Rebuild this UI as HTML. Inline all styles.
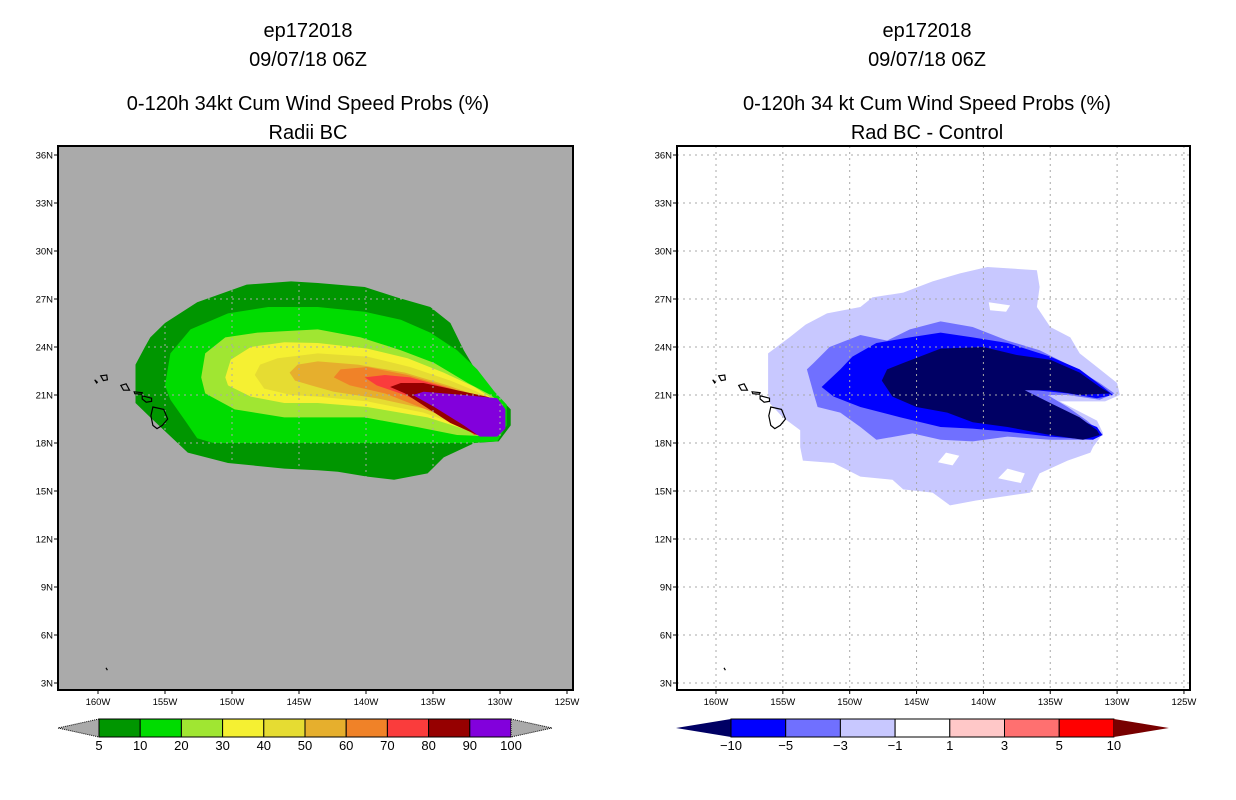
<!DOCTYPE html>
<html><head><meta charset="utf-8">
<style>
html,body{margin:0;padding:0;background:#fff;}
svg{display:block;font-family:"Liberation Sans",sans-serif;}
</style></head>
<body>
<svg id="chart" width="1236" height="800" viewBox="0 0 1236 800" xmlns="http://www.w3.org/2000/svg">
  <defs>
    <clipPath id="clipL"><rect x="58" y="146" width="515" height="544"/></clipPath>
    <clipPath id="clipR"><rect x="677" y="146" width="513" height="544"/></clipPath>
  </defs>
  <g font-size="20" text-anchor="middle" fill="#000">
    <text x="308" y="37">ep172018</text>
    <text x="308" y="66">09/07/18 06Z</text>
    <text x="308" y="110">0-120h 34kt Cum Wind Speed Probs (%)</text>
    <text x="308" y="139">Radii BC</text>
  </g>
  <g font-size="20" text-anchor="middle" fill="#000">
    <text x="927" y="37">ep172018</text>
    <text x="927" y="66">09/07/18 06Z</text>
    <text x="927" y="110">0-120h 34 kt Cum Wind Speed Probs (%)</text>
    <text x="927" y="139">Rad BC - Control</text>
  </g>
  <rect x="58" y="146" width="515" height="544" fill="#aaaaaa"/>
  <rect x="677" y="146" width="513" height="544" fill="#ffffff"/>
  <g id="leftContours" clip-path="url(#clipL)"></g>
  <g id="rightContours" clip-path="url(#clipR)"></g>
  <g id="leftGrid" clip-path="url(#clipL)"></g>
  <g id="rightGrid" clip-path="url(#clipR)"></g>
  <g id="leftCoast" clip-path="url(#clipL)"></g>
  <g id="rightCoast" clip-path="url(#clipR)"></g>
  <rect x="58" y="146" width="515" height="544" fill="none" stroke="#000" stroke-width="2"/>
  <rect x="677" y="146" width="513" height="544" fill="none" stroke="#000" stroke-width="2"/>
  <g id="leftAxes"></g>
  <g id="rightAxes"></g>
  <g id="leftBar"></g>
  <g id="rightBar"></g>
</svg>
<script>
// ---------- data ----------
const latTicks = [36,33,30,27,24,21,18,15,12,9,6,3];
const lonTicks = [160,155,150,145,140,135,130,125];

const probLevels = [5,10,20,30,40,50,60,70,80,90,100];
const probColors = ["#009600","#00dc00","#a0e632","#f5f032","#e6dc32","#e6af2d","#f08228","#fa3c3c","#960000","#8200dc"];

const prob5 = [[157.2,21.9],[157.2,20.5],[156.1,19.6],[153.3,17.4],[150.3,16.75],[146.1,16.4],[143.6,16.3],[142.1,16.2],[139.9,15.9],[137.9,15.7],[135.4,16.1],[134.2,17.1],[131.9,18.0],[130.1,18.1],[129.2,19.1],[129.2,20.1],[130.2,21.0],[131.5,22.1],[132.7,23.8],[133.7,25.5],[135.2,26.5],[137.7,27.1],[140.1,27.75],[143.6,28.0],[145.6,28.1],[148.9,27.9],[152.6,26.8],[155.0,25.5],[156.1,24.6],[156.5,24.0],[157.2,22.9]];
const prob10 = [[155.0,21.6],[154.6,20.7],[153.5,19.4],[152.6,18.3],[151.4,18.0],[132.4,18.0],[130.2,18.1],[129.5,19.1],[129.5,20.4],[130.4,21.2],[131.7,22.6],[133.2,23.8],[135.2,24.9],[137.4,25.7],[140.1,26.2],[143.6,26.5],[147.3,26.5],[150.3,26.1],[153.1,25.1],[154.6,23.6]];
const prob20 = [[152.3,22.1],[152.0,21.1],[149.8,20.1],[146.1,19.6],[143.6,19.6],[140.1,19.6],[136.2,19.0],[133.2,18.5],[130.2,18.4],[129.8,19.1],[129.8,20.4],[130.7,21.0],[132.4,21.75],[134.9,23.0],[137.4,23.8],[140.4,24.6],[143.6,25.1],[148.1,24.9],[150.5,24.6],[152.0,23.6]];
const prob30 = [[150.5,22.1],[150.3,21.6],[148.6,20.9],[146.1,20.5],[143.6,20.5],[139.9,20.25],[135.4,19.6],[132.4,18.8],[130.4,18.7],[130.0,19.1],[130.0,20.1],[130.6,20.8],[131.9,21.5],[134.2,22.4],[136.9,23.3],[139.9,23.9],[143.6,24.25],[146.1,24.3],[148.6,24.0],[150.1,23.2]];
const prob40 = [[148.3,22.25],[147.6,21.4],[145.6,21.0],[143.6,20.9],[139.9,20.6],[135.7,19.9],[132.7,19.0],[130.2,18.9],[130.1,19.9],[130.5,20.7],[131.7,21.2],[133.7,21.9],[136.7,22.75],[139.9,23.4],[143.6,23.6],[146.6,23.3],[147.9,22.9]];
const prob50 = [[145.7,22.4],[145.3,21.9],[144.1,21.6],[142.4,21.2],[139.2,20.8],[135.4,20.1],[132.2,19.0],[130.4,18.8],[130.2,19.9],[130.4,20.6],[131.5,20.9],[133.9,21.6],[137.1,22.4],[140.6,22.9],[143.6,23.1],[145.1,22.9]];
const prob60 = [[142.4,22.1],[141.2,21.6],[138.6,21.1],[134.9,19.9],[131.9,18.8],[130.4,18.8],[130.2,19.75],[130.4,20.5],[131.2,20.7],[133.9,21.5],[136.9,22.25],[139.9,22.75],[141.9,22.6]];
const prob70 = [[140.1,22.1],[139.2,21.6],[137.1,21.0],[134.2,19.9],[131.9,18.5],[130.5,18.8],[130.4,19.75],[130.2,20.6],[131.2,20.8],[133.7,21.4],[136.7,22.1],[138.6,22.25]];
const prob80 = [[138.2,21.5],[137.1,21.1],[136.0,20.5],[133.7,19.25],[131.7,18.5],[130.5,18.8],[130.2,20.7],[131.0,20.9],[133.2,21.3],[135.7,21.75],[137.4,21.75]];
const prob90 = [[136.5,21.0],[134.9,20.25],[132.7,19.1],[131.5,18.4],[130.2,18.4],[129.6,18.9],[129.6,20.1],[130.2,20.8],[132.7,21.0],[135.7,21.2]];

const diffLevels = ["-10","-5","-3","-1","1","3","5","10"];
const diffColors = ["#000064","#0000ff","#7070ff","#c8c8ff","#ffffff","#ffc8c8","#ff7070","#ff0000","#780000"];
const diffM1 = [[156.1,23.6],[156.1,21.1],[156.0,20.5],[155.0,19.6],[153.7,18.8],[153.7,17.75],[153.5,16.9],[151.2,16.75],[149.2,15.9],[146.8,15.7],[146.0,15.1],[143.8,14.9],[142.5,14.1],[140.6,14.4],[136.5,14.9],[135.8,16.1],[133.7,16.9],[132.0,17.4],[131.8,17.75],[131.05,18.6],[131.5,19.4],[134.3,20.6],[130.9,20.6],[129.8,21.0],[130.0,21.75],[131.5,22.75],[132.8,23.6],[133.5,24.6],[135.0,25.25],[136.0,26.5],[135.8,27.75],[136.0,28.8],[139.7,29.0],[141.75,28.6],[143.8,28.1],[146.0,27.4],[148.3,27.1],[149.2,26.5],[151.7,26.1],[153.3,25.4],[154.5,24.6]];
const diffM3 = [[153.2,22.6],[152.7,21.1],[152.4,20.25],[150.7,19.9],[149.2,19.0],[148.0,18.2],[145.3,18.6],[143.2,18.2],[140.8,18.1],[138.2,18.4],[135.0,18.2],[132.0,18.2],[131.05,18.5],[132.25,19.4],[133.7,20.25],[135.2,21.0],[133.7,21.0],[131.3,20.7],[130.2,21.1],[131.3,21.75],[133.3,22.75],[135.8,23.8],[138.2,24.4],[140.8,25.25],[143.2,25.6],[145.5,25.1],[147.2,24.4],[149.2,24.75],[151.5,24.0],[152.7,23.0]];
const diffM5 = [[152.1,21.5],[151.2,20.9],[149.2,20.25],[146.2,19.6],[143.2,19.0],[140.8,18.9],[138.2,18.7],[135.0,18.4],[131.8,18.2],[131.1,18.5],[131.5,19.0],[133.3,19.6],[135.8,20.7],[137.3,21.4],[133.7,21.1],[131.5,20.8],[130.3,21.0],[131.05,21.5],[132.8,22.6],[135.0,23.4],[138.2,24.25],[140.8,24.6],[143.2,24.9],[145.5,24.6],[148.0,24.25],[149.8,23.4],[150.7,22.6]];
const diffM10 = [[147.6,21.9],[146.8,20.9],[145.0,20.25],[142.7,19.9],[140.8,19.3],[138.2,19.0],[135.0,18.5],[132.55,18.2],[131.3,18.5],[131.5,18.8],[132.8,19.6],[135.0,20.5],[136.9,21.3],[135.0,21.3],[132.8,21.0],[130.5,21.1],[131.3,21.5],[132.8,22.4],[135.0,23.2],[137.5,23.5],[140.0,24.0],[143.2,23.9],[146.0,23.0],[147.2,22.6]];
// white holes in the -1 region
const diffHole1 = [[143.4,16.8],[142.3,16.6],[141.8,17.2],[142.8,17.4]];
const diffHole2 = [[138.9,15.8],[137.2,15.5],[136.9,16.1],[138.2,16.4]];
const diffHole3 = [[139.6,26.8],[138.0,26.6],[138.3,26.2],[139.5,26.3]];

const islands = {
  "big-island": [[155.9,20.25],[155.1,20.1],[154.8,19.5],[155.2,19.1],[155.6,18.9],[155.9,19.1],[156.05,19.7]],
  "maui": [[156.7,20.95],[156.0,20.8],[156.0,20.6],[156.4,20.55],[156.7,20.75]],
  "molokai": [[157.3,21.2],[156.7,21.15],[156.75,21.05],[157.25,21.08]],
  "oahu": [[158.3,21.6],[157.9,21.7],[157.65,21.3],[158.1,21.3]],
  "kauai": [[159.8,22.2],[159.35,22.25],[159.3,21.95],[159.6,21.9]],
  "niihau": [[160.25,21.95],[160.05,21.8],[160.1,21.75]],
  "small-islet": [[159.4,3.95],[159.3,3.8]]
};

// ---------- helpers ----------
const NS = "http://www.w3.org/2000/svg";
function mk(tag, attrs, parent) {
  const e = document.createElementNS(NS, tag);
  for (const k in attrs) e.setAttribute(k, attrs[k]);
  parent.appendChild(e);
  return e;
}
function xScaleL(lonW) { return 98 + (160 - lonW) * 13.4; }
function xScaleR(lonW) { return 716 + (160 - lonW) * 13.37; }
function yScale(lat) { return 155 + (36 - lat) * 16; }
function pts(poly, xs) { return poly.map(p => xs(p[0]).toFixed(1) + "," + yScale(p[1]).toFixed(1)).join(" "); }

// ---------- contours ----------
const leftG = document.getElementById("leftContours");
const probPolys = [prob5, prob10, prob20, prob30, prob40, prob50, prob60, prob70, prob80, prob90];
probPolys.forEach((poly, i) => {
  const el = mk("polygon", {points: pts(poly, xScaleL), fill: probColors[i]}, leftG);
  
  
});
const rightG = document.getElementById("rightContours");
const diffPolys = [diffM1, diffM3, diffM5, diffM10];
const diffPolyColors = ["#c8c8ff", "#7070ff", "#0000ff", "#000064"];
const diffPolyNames = ["-1", "-3", "-5", "-10"];
diffPolys.forEach((poly, i) => {
  const el = mk("polygon", {points: pts(poly, xScaleR), fill: diffPolyColors[i]}, rightG);
  
  
});
[diffHole1, diffHole2, diffHole3].forEach(poly => {
  const el = mk("polygon", {points: pts(poly, xScaleR), fill: "#ffffff"}, rightG);
  
  
});

// ---------- grids ----------
function grid(gid, xs, x0, x1, color) {
  const g = document.getElementById(gid);
  lonTicks.forEach(l => {
    const el = mk("line", {x1: xs(l), x2: xs(l), y1: 146, y2: 690, stroke: color, "stroke-width": 1, "stroke-dasharray": "2,4"}, g);
    
    
  });
  latTicks.forEach(l => {
    const el = mk("line", {x1: x0, x2: x1, y1: yScale(l), y2: yScale(l), stroke: color, "stroke-width": 1, "stroke-dasharray": "2,4"}, g);
    
    
  });
}
grid("leftGrid", xScaleL, 58, 573, "#aaaaaa");
grid("rightGrid", xScaleR, 677, 1190, "#a8a8a8");

// ---------- coastlines ----------
function coast(gid, xs) {
  const g = document.getElementById(gid);
  for (const k in islands) {
    const el = mk(islands[k].length > 2 ? "polygon" : "polyline", {points: pts(islands[k], xs), fill: "none", stroke: "#000", "stroke-width": 1.2}, g);
    
    
  }
}
coast("leftCoast", xScaleL);
coast("rightCoast", xScaleR);

// ---------- axes ----------
function axes(gid, xs, xLeft) {
  const g = document.getElementById(gid);
  latTicks.forEach(l => {
    const y = yScale(l);
    const t = mk("line", {x1: xLeft - 4, x2: xLeft, y1: y, y2: y, stroke: "#000", "stroke-width": 1}, g);
    
    
    const tx = mk("text", {x: xLeft - 5, y: y + 3.5, "font-size": 9.5, "text-anchor": "end", fill: "#000"}, g);
    tx.textContent = l + "N";
    
    
  });
  lonTicks.forEach(l => {
    const x = xs(l);
    const t = mk("line", {x1: x, x2: x, y1: 690, y2: 694, stroke: "#000", "stroke-width": 1}, g);
    
    
    const tx = mk("text", {x: x, y: 705, "font-size": 9.5, "text-anchor": "middle", fill: "#000"}, g);
    tx.textContent = l + "W";
    
    
  });
}
axes("leftAxes", xScaleL, 58);
axes("rightAxes", xScaleR, 677);

// ---------- colorbars ----------
function colorbar(gid, x0, w, colors, labels, leftTri, rightTri, triLen, triStroke) {
  const g = document.getElementById(gid);
  const y0 = 719, h = 18, n = colors.length;
  const lt = mk("polygon", {points: `${x0},${y0} ${x0 - triLen},${y0 + h / 2} ${x0},${y0 + h}`, fill: leftTri, stroke: triStroke, "stroke-width": 1, "stroke-dasharray": triStroke === "#000" ? "1,1" : "none"}, g);
  
  
  colors.forEach((c, i) => {
    const r = mk("rect", {x: x0 + i * w, y: y0, width: w, height: h, fill: c, stroke: "#000", "stroke-width": 1}, g);
    
    
  });
  const xe = x0 + n * w;
  const rt = mk("polygon", {points: `${xe},${y0} ${xe + triLen},${y0 + h / 2} ${xe},${y0 + h}`, fill: rightTri, stroke: triStroke, "stroke-width": 1, "stroke-dasharray": triStroke === "#000" ? "1,1" : "none"}, g);
  
  
  labels.forEach((lab, i) => {
    const t = mk("text", {x: x0 + i * w, y: 750, "font-size": 13, "text-anchor": "middle", fill: "#000"}, g);
    t.textContent = lab;
    
    
  });
}
colorbar("leftBar", 99, 41.2, probColors, probLevels.map(String), "#aaaaaa", "#aaaaaa", 41, "#000");
colorbar("rightBar", 731, 54.7, diffColors.slice(1, 8), diffLevels.map(s => s.replace("-", "\u2212")), diffColors[0], diffColors[8], 55, "none");
</script>
</body></html>
